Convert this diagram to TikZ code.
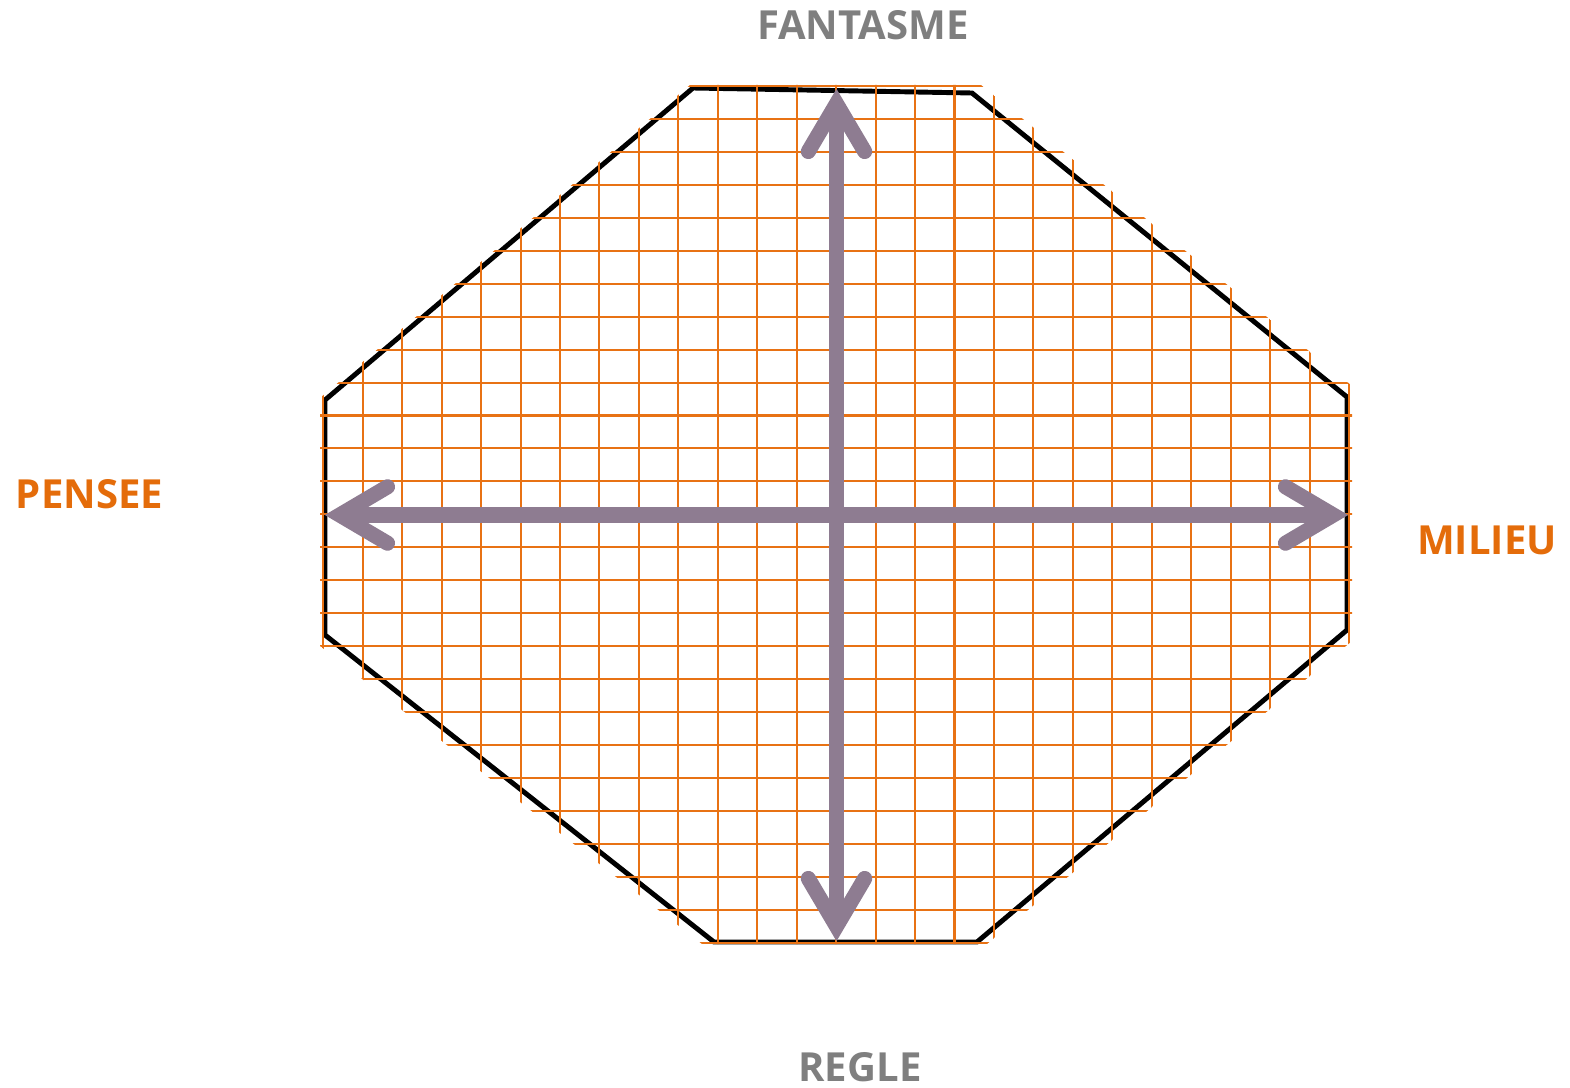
\documentclass[tikz,border=0pt]{standalone}
\usepackage{fontspec}
\setmainfont{Open Sans}
\usetikzlibrary{calc}
\definecolor{orangeg}{RGB}{232,114,20}
\definecolor{orangetxt}{RGB}{228,108,10}
\definecolor{grist}{RGB}{127,127,127}
\definecolor{mauve}{RGB}{142,124,145}
\tikzset{
  grille/.style={orangeg, line width=1.15pt},
  bord/.style={black, line width=2.8pt, line join=miter},
  axe/.style={mauve, line width=8.6pt},
  pointe/.style={mauve, line width=8.6pt, line cap=round, line join=miter},
  etiq/.style={inner sep=0pt, anchor=base, font=\bfseries\fontsize{22.8}{27}\selectfont},
}
\begin{document}
\begin{tikzpicture}[x=0.02cm, y=-0.02cm]
        \useasboundingbox (0,0) rectangle (1570,1088);
        % octogone
        \draw[bord] (693,88) -- (972,93) -- (1347,397) -- (1347,630) -- (977,942) -- (714,942) -- (325,635) -- (325,400) -- cycle;
        % quadrillage
        \begin{scope}
            \clip (690,85) -- (981,85) -- (1352,386) -- (1352,641) -- (987,944) -- (702,944) -- (320,646) -- (320,398) -- cycle;
            \foreach \i in {0,...,26} {
                \draw[grille] ({323.3+39.45*\i},80) -- ++(0,870);
                \draw[grille] (315,{86+32.95*\i}) -- ++(1045,0);
            }
        \end{scope}
        % axes
        \coordinate (haut) at (836.5,89);
        \coordinate (bas) at (836.5,941);
        \coordinate (gauche) at (325,515);
        \coordinate (droite) at (1348,515);
        \draw[axe] ($(haut)+(0,20)$) -- ($(bas)+(0,-20)$);
        \draw[axe] ($(gauche)+(20,0)$) -- ($(droite)+(-20,0)$);
        \draw[pointe] ($(haut)+(-28.2,62.5)$) -- ($(haut)+(0,14.7)$) -- ($(haut)+(28.2,62.5)$);
        \draw[pointe] ($(bas)+(-28.2,-62.5)$) -- ($(bas)+(0,-14.7)$) -- ($(bas)+(28.2,-62.5)$);
        \draw[pointe] ($(gauche)+(62.5,-28.2)$) -- ($(gauche)+(14.7,0)$) -- ($(gauche)+(62.5,28.2)$);
        \draw[pointe] ($(droite)+(-62.5,-28.2)$) -- ($(droite)+(-14.7,0)$) -- ($(droite)+(-62.5,28.2)$);
        % etiquettes
        \node[etiq, grist] (fantasme) at (863,40) {FANTASME};
        \node[etiq, grist] (regle) at (860,1081) {REGLE};
        \node[etiq, orangetxt] (pensee) at (89.5,508) {PENSEE};
        \node[etiq, orangetxt] (milieu) at (1487,554) {MILIEU};
\end{tikzpicture}
\end{document}
